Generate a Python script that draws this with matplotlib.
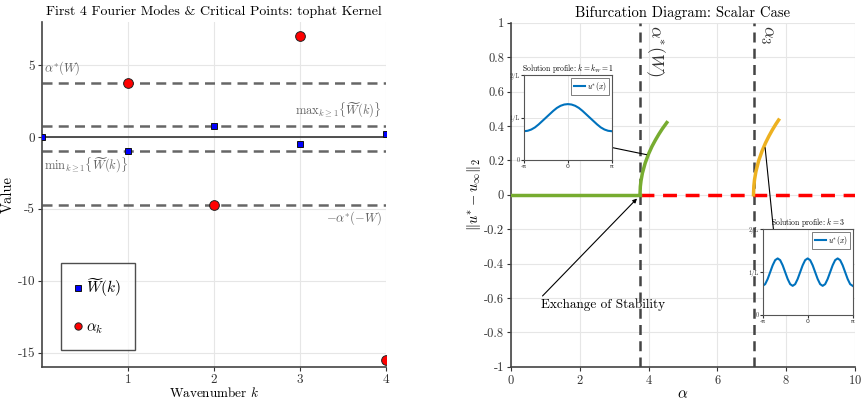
import numpy as np
import matplotlib.pyplot as plt

plt.rcParams['font.family'] = ['cmr10', 'DejaVu Serif']
plt.rcParams['mathtext.fontset'] = 'cm'
plt.rcParams['axes.unicode_minus'] = False
plt.rcParams['axes.formatter.use_mathtext'] = True

# ---- data: left panel (Fourier modes) ----
k = [0, 1, 2, 3, 4]
W_hat = [0.0, -0.95, 0.77, -0.51, 0.2]
k_alpha = [1, 2, 3, 4]
alpha_k = [3.75, -4.7, 7.05, -15.5]
alpha_star = 3.75
alpha_star_neg = -4.7
W_max = 0.77
W_min = -0.95

# ---- data: right panel (bifurcation) ----
alpha_trivial = [0.0, 3.75]
norm_trivial = [0.0, 0.0]
alpha_unstable = [3.75, 10.0]
norm_unstable = [0.0, 0.0]
alpha_b1 = [3.75, 3.76, 3.78, 3.82, 3.9, 4.0, 4.1, 4.2, 4.3, 4.4, 4.53]
norm_b1 = [0.0, 0.048, 0.082, 0.126, 0.184, 0.238, 0.282, 0.319, 0.353, 0.384, 0.42]
alpha_b3 = [7.05, 7.06, 7.08, 7.12, 7.2, 7.3, 7.4, 7.5, 7.6, 7.7, 7.78]
norm_b3 = [0.0, 0.051, 0.088, 0.135, 0.198, 0.255, 0.302, 0.342, 0.378, 0.411, 0.435]
alpha_crit = [3.75, 7.05]

# solution profiles (in units of 1/L)
x1 = np.linspace(-np.pi, np.pi, 25)
u1 = [0.68, 0.69, 0.72, 0.77, 0.84, 0.92, 1.00, 1.08, 1.16, 1.23, 1.28, 1.31, 1.32,
      1.31, 1.28, 1.23, 1.16, 1.08, 1.00, 0.92, 0.84, 0.77, 0.72, 0.69, 0.68]
x3 = np.linspace(-np.pi, np.pi, 37)
period3 = [0.68, 0.72, 0.84, 1.0, 1.16, 1.28, 1.32, 1.28, 1.16, 1.0, 0.84, 0.72]
u3 = period3 * 3 + [0.68]

fig = plt.figure(figsize=(8.61, 4.01), dpi=100)

# ================= left panel =================
ax = fig.add_axes([0.0488, 0.0848, 0.3995, 0.8602])
ax.set_xlim(0, 4)
ax.set_ylim(-16, 8)
ax.grid(True, color='#e6e6e6', lw=0.8)
ax.set_axisbelow(True)
ax.axhline(0, color='#333333', lw=1.2, zorder=1)
for yv in [alpha_star, W_max, W_min, alpha_star_neg]:
    ax.axhline(yv, color='#666666', lw=1.8, ls=(0, (4, 2.5)), zorder=2)
ax.plot(k, W_hat, 's', ms=5, mfc='#0000ff', mec='#111111', mew=0.7, ls='none',
        label=r'$\widetilde{W}(k)$', zorder=4)
ax.plot(k_alpha, alpha_k, 'o', ms=7, mfc='#ff0000', mec='#222222', mew=0.7, ls='none',
        label=r'$\alpha_k$', zorder=4)
ax.set_xticks([1, 2, 3, 4])
ax.set_xticklabels(['1', '2', '3', '4'])
ax.set_yticks([5, 0, -5, -10, -15])
ax.set_yticklabels(['5', '0', '-5', '-10', '-15'])
ax.tick_params(labelsize=9.5, length=3, pad=2, colors='#333333')
for s in ['top', 'right']:
    ax.spines[s].set_visible(False)
for s in ['left', 'bottom']:
    ax.spines[s].set_color('#444444')
    ax.spines[s].set_linewidth(1.2)
ax.text(0.02, alpha_star + 0.45, r'$\alpha^{*}(W)$', color='#666666', fontsize=9, va='bottom')
ax.text(3.95, W_max + 0.45, r'$\mathrm{max}_{k\geq 1}\{\widetilde{W}(k)\}$', color='#666666',
        fontsize=9, ha='right', va='bottom')
ax.text(0.02, W_min - 0.35, r'$\mathrm{min}_{k\geq 1}\{\widetilde{W}(k)\}$', color='#666666',
        fontsize=9, va='top')
ax.text(3.95, alpha_star_neg - 0.35, r'$-\alpha^{*}(-W)$', color='#666666', fontsize=9,
        ha='right', va='top')
ax.set_title('First 4 Fourier Modes & Critical Points: tophat Kernel', fontsize=10, pad=5)
ax.set_xlabel(r'Wavenumber $k$', fontsize=9.5, labelpad=0)
ax.set_ylabel('Value', fontsize=10.5, labelpad=2)
leg = ax.legend(loc='lower left', bbox_to_anchor=(0.055, 0.05), fontsize=11, frameon=True,
                fancybox=False, edgecolor='#222222', handlelength=0.4, labelspacing=1.4,
                borderpad=0.9, handletextpad=0.35, markerscale=0.75, borderaxespad=0)
leg.get_frame().set_linewidth(1.0)

# ================= right panel =================
ax2 = fig.add_axes([0.5935, 0.0855, 0.3995, 0.8575])
ax2.set_xlim(0, 10)
ax2.set_ylim(-1, 1)
ax2.grid(True, color='#e6e6e6', lw=0.8)
ax2.set_axisbelow(True)
ax2.plot(alpha_unstable, norm_unstable, color='#ff0000', lw=2.5, ls=(0, (4, 2.5)), zorder=3)
ax2.plot(alpha_trivial, norm_trivial, color='#77AC30', lw=2.5, zorder=3)
ax2.plot(alpha_b1, norm_b1, color='#77AC30', lw=2.5, zorder=3)
ax2.plot(alpha_b3, norm_b3, color='#EDB120', lw=2.5, zorder=3)
for a in alpha_crit:
    ax2.axvline(a, color='#444444', lw=1.8, ls=(0, (4, 2.5)), zorder=2)
ax2.text(alpha_crit[0] + 0.12, 0.99, r'$\alpha^{*}(W)$', rotation=270, fontsize=13,
         va='top', ha='left', color='#333333')
ax2.text(alpha_crit[1] + 0.12, 0.99, r'$\alpha_3$', rotation=270, fontsize=13,
         va='top', ha='left', color='#333333')
ax2.annotate('', xy=(1.94, 0.316), xytext=(4.02, 0.23),
             arrowprops=dict(arrowstyle='-|>', color='black', lw=0.8, mutation_scale=6))
ax2.annotate('', xy=(7.70, -0.34), xytext=(7.38, 0.29),
             arrowprops=dict(arrowstyle='-|>', color='black', lw=0.8, mutation_scale=6))
ax2.annotate('', xy=(3.72, -0.01), xytext=(0.86, -0.6),
             arrowprops=dict(arrowstyle='-|>', color='black', lw=0.8, mutation_scale=6))
ax2.text(0.86, -0.6, 'Exchange of Stability', fontsize=9.5, va='top', ha='left')
ax2.set_xticks([0, 2, 4, 6, 8, 10])
ax2.set_yticks([-1, -0.8, -0.6, -0.4, -0.2, 0, 0.2, 0.4, 0.6, 0.8, 1])
ax2.set_yticklabels(['-1', '-0.8', '-0.6', '-0.4', '-0.2', '0', '0.2', '0.4', '0.6', '0.8', '1'])
ax2.tick_params(labelsize=9, length=3, pad=2, colors='#333333')
for s in ['top', 'right']:
    ax2.spines[s].set_visible(False)
for s in ['left', 'bottom']:
    ax2.spines[s].set_color('#444444')
    ax2.spines[s].set_linewidth(1.2)
ax2.set_title('Bifurcation Diagram: Scalar Case', fontsize=10.5, pad=4)
ax2.set_xlabel(r'$\alpha$', fontsize=11, labelpad=1)
ax2.set_ylabel(r'$\|u^{*} - u_{\infty}\|_2$', fontsize=10.5)
ax2.yaxis.set_label_coords(-0.08, 0.5)


def draw_inset(rect, xs, us, title):
    ins = fig.add_axes(rect)
    ins.plot(xs, us, color='#0072BD', lw=1.5, label=r'$u^{*}(x)$')
    ins.set_xlim(-np.pi, np.pi)
    ins.set_ylim(0, 2)
    ins.set_xticks([-np.pi, 0, np.pi])
    ins.set_xticklabels(['-π', '0', 'π'], family='DejaVu Sans')
    ins.set_yticks([0, 1, 2])
    ins.set_yticklabels(['0', '1/L', '2/L'])
    ins.tick_params(labelsize=4.5, length=2, pad=1, colors='#333333')
    ins.grid(True, color='#e0e0e0', lw=0.6)
    for s in ins.spines.values():
        s.set_color('#555555')
        s.set_linewidth(0.8)
    ins.set_title(title, fontsize=5.5, pad=2)
    lg = ins.legend(loc='upper right', fontsize=5.5, fancybox=False, edgecolor='#444444',
                    handlelength=1.5, borderpad=0.3, handletextpad=0.3, borderaxespad=0.3)
    lg.get_frame().set_linewidth(0.6)
    return ins


draw_inset([0.6086, 0.601, 0.1019, 0.2112], x1, u1, r'Solution profile: $k = k_W = 1$')
draw_inset([0.8858, 0.2145, 0.1045, 0.2137], x3, u3, r'Solution profile: $k = 3$')

plt.savefig('out.png', dpi=100)
